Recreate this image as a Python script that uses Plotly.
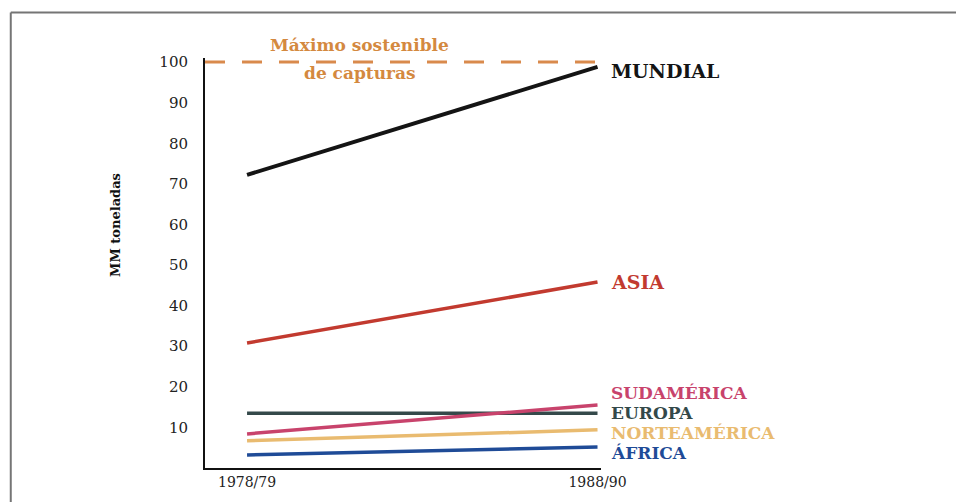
import plotly.graph_objects as go

periods = ["1978/79", "1988/90"]
regions = ["MUNDIAL", "ASIA", "SUDAMÉRICA", "EUROPA", "NORTEAMÉRICA", "ÁFRICA"]
mundial = [72.2, 98.8]
asia = [30.8, 45.8]
sudamerica = [8.4, 15.5]
europa = [13.5, 13.5]
norteamerica = [6.7, 9.4]
africa = [3.2, 5.2]
max_sostenible = 100
y_ticks = [10, 20, 30, 40, 50, 60, 70, 80, 90, 100]

series = [mundial, asia, sudamerica, europa, norteamerica, africa]
colors = ["#141414", "#c23a2f", "#c8436c", "#34494a", "#e9bb70", "#1f4b97"]
label_shift = [-4, 0, 12, 0, -3, -6]
label_size = [19, 19, 17, 17, 17, 17]

x = [0, 1]
fig = go.Figure()
for i in [3, 4, 2, 5, 1, 0]:
    fig.add_trace(go.Scatter(x=x, y=series[i], mode="lines",
                             line=dict(color=colors[i], width=4 if i == 0 else 3.5),
                             showlegend=False, hoverinfo="skip"))

serif = "DejaVu Serif, Liberation Serif, serif"
for i, name in enumerate(regions):
    fig.add_annotation(x=1, y=series[i][1], xref="x", yref="y", text=f"<b>{name}</b>",
                       showarrow=False, xanchor="left", yanchor="middle",
                       xshift=12, yshift=label_shift[i], borderpad=0,
                       font=dict(family=serif, size=label_size[i], color=colors[i]))

fig.add_shape(type="line", x0=-0.12, x1=1.0, y0=max_sostenible, y1=max_sostenible,
              xref="x", yref="y", line=dict(color="#d98a4c", width=3, dash="20px,17px"))
fig.add_annotation(x=0.322, y=max_sostenible, xref="x", yref="y",
                   text="<b>Máximo sostenible</b>", showarrow=False,
                   xanchor="center", yanchor="middle", yshift=17,
                   font=dict(family=serif, size=17, color="#d4893f"))
fig.add_annotation(x=0.322, y=max_sostenible, xref="x", yref="y",
                   text="<b>de capturas</b>", showarrow=False,
                   xanchor="center", yanchor="middle", yshift=-11,
                   font=dict(family=serif, size=17, color="#d4893f"))

fig.add_annotation(x=-0.2245, y=0.593, xref="paper", yref="paper", text="<b>MM toneladas</b>",
                   textangle=-90, showarrow=False, xanchor="center", yanchor="middle",
                   font=dict(family=serif, size=13, color="#111"))

fig.add_shape(type="line", xref="paper", yref="paper", x0=-0.4905, x1=1.9, y0=1.111, y1=1.111,
              line=dict(color="#757575", width=2))
fig.add_shape(type="line", xref="paper", yref="paper", x0=-0.4905, x1=-0.4905, y0=1.111, y1=-0.1,
              line=dict(color="#757575", width=2))

fig.update_layout(
    width=956, height=502,
    margin=dict(l=205, r=354.5, t=58, b=34),
    paper_bgcolor="white", plot_bgcolor="white",
    xaxis=dict(range=[-0.12, 1.01], tickvals=x, ticktext=periods, showgrid=False,
               zeroline=False, showline=True, linecolor="#111", linewidth=2,
               ticks="", tickfont=dict(family=serif, size=14, color="#222")),
    yaxis=dict(range=[0, 101], tickvals=y_ticks, showgrid=False, zeroline=False,
               showline=True, linecolor="#111", linewidth=2, ticks="outside",
               ticklen=12, tickcolor="rgba(0,0,0,0)",
               tickfont=dict(family=serif, size=15, color="#222")),
)
fig.write_html("out.html", config={"displayModeBar": False},
               post_script="document.body.style.margin='0';")
